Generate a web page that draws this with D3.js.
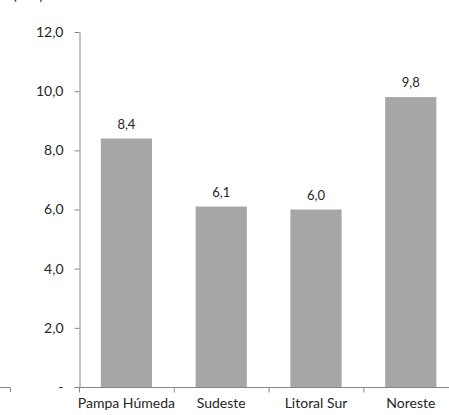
<!DOCTYPE html>
<html>
<head>
<meta charset="utf-8">
<script src="https://cdn.jsdelivr.net/npm/d3@7"></script>
<style>
  body { margin: 0; background: #fff; }
  text { font-family: Lato, "Open Sans", sans-serif; fill: #262626; }
</style>
</head>
<body>
<div id="container"></div>
<script>
const regions = ["Pampa Húmeda", "Sudeste", "Litoral Sur", "Noreste"];
const values = [8.4, 6.1, 6.0, 9.8];
const yTicks = [0, 2, 4, 6, 8, 10, 12];

const width = 449;
const height = 415;
const marginTop = 32;
const marginBottom = 28;
const marginLeft = 79;
const axisColor = "#868686";

const fmt = (v) => v === 0 ? "-" : v.toFixed(1).replace(".", ",");

const x = d3.scaleBand(regions, [marginLeft, marginLeft + 4 * 94.8])
  .paddingInner(0.46)
  .paddingOuter(0.23);
const y = d3.scaleLinear([0, 12], [height - marginBottom, marginTop]);

const svg = d3.create("svg")
  .attr("width", width)
  .attr("height", height);

// cut-off unit label from top left
svg.append("text")
  .attr("x", 13)
  .attr("y", 0)
  .style("font-size", "14px")
  .text("(mm)");

// fragment of neighbouring chart axis
svg.append("path")
  .attr("fill", "none")
  .attr("stroke", axisColor)
  .attr("d", `M0,${y(0) + 0.5}H10.5V${y(0) + 5}`);

// bars
svg.append("g")
  .attr("fill", "#a6a6a6")
  .selectAll("rect")
  .data(regions)
  .join("rect")
    .attr("x", (d) => x(d))
    .attr("width", x.bandwidth())
    .attr("y", (d, i) => y(values[i]))
    .attr("height", (d, i) => y(0) - y(values[i]));

// value labels
svg.append("g")
  .selectAll("text")
  .data(regions)
  .join("text")
    .attr("x", (d) => x(d) + x.bandwidth() / 2)
    .attr("y", (d, i) => y(values[i]) - 10)
    .attr("text-anchor", "middle")
    .style("font-size", "13px")
    .text((d, i) => fmt(values[i]));

// y axis
const gy = svg.append("g")
  .attr("transform", `translate(${marginLeft + 0.5},0)`)
  .call(d3.axisLeft(y).tickValues(yTicks).tickFormat(fmt).tickSize(5).tickSizeOuter(0).tickPadding(11));
gy.selectAll("path, line").attr("stroke", axisColor);
gy.selectAll("text").style("font-size", "14px").attr("fill", "#262626");

// x axis
const gx = svg.append("g")
  .attr("transform", `translate(0,${y(0) + 0.5})`);
gx.append("line")
  .attr("x1", marginLeft)
  .attr("x2", width)
  .attr("stroke", axisColor);
gx.selectAll(".tick")
  .data(regions)
  .join("line")
    .attr("class", "tick")
    .attr("x1", (d) => x(d) - x.step() * 0.23 + 0.5)
    .attr("x2", (d) => x(d) - x.step() * 0.23 + 0.5)
    .attr("y1", 0)
    .attr("y2", 5)
    .attr("stroke", axisColor);
gx.selectAll(".lbl")
  .data(regions)
  .join("text")
    .attr("class", "lbl")
    .attr("x", (d) => x(d) + x.bandwidth() / 2)
    .attr("y", 20)
    .attr("text-anchor", "middle")
    .style("font-size", "14px")
    .text((d) => d);

document.getElementById("container").append(svg.node());
</script>
</body>
</html>
